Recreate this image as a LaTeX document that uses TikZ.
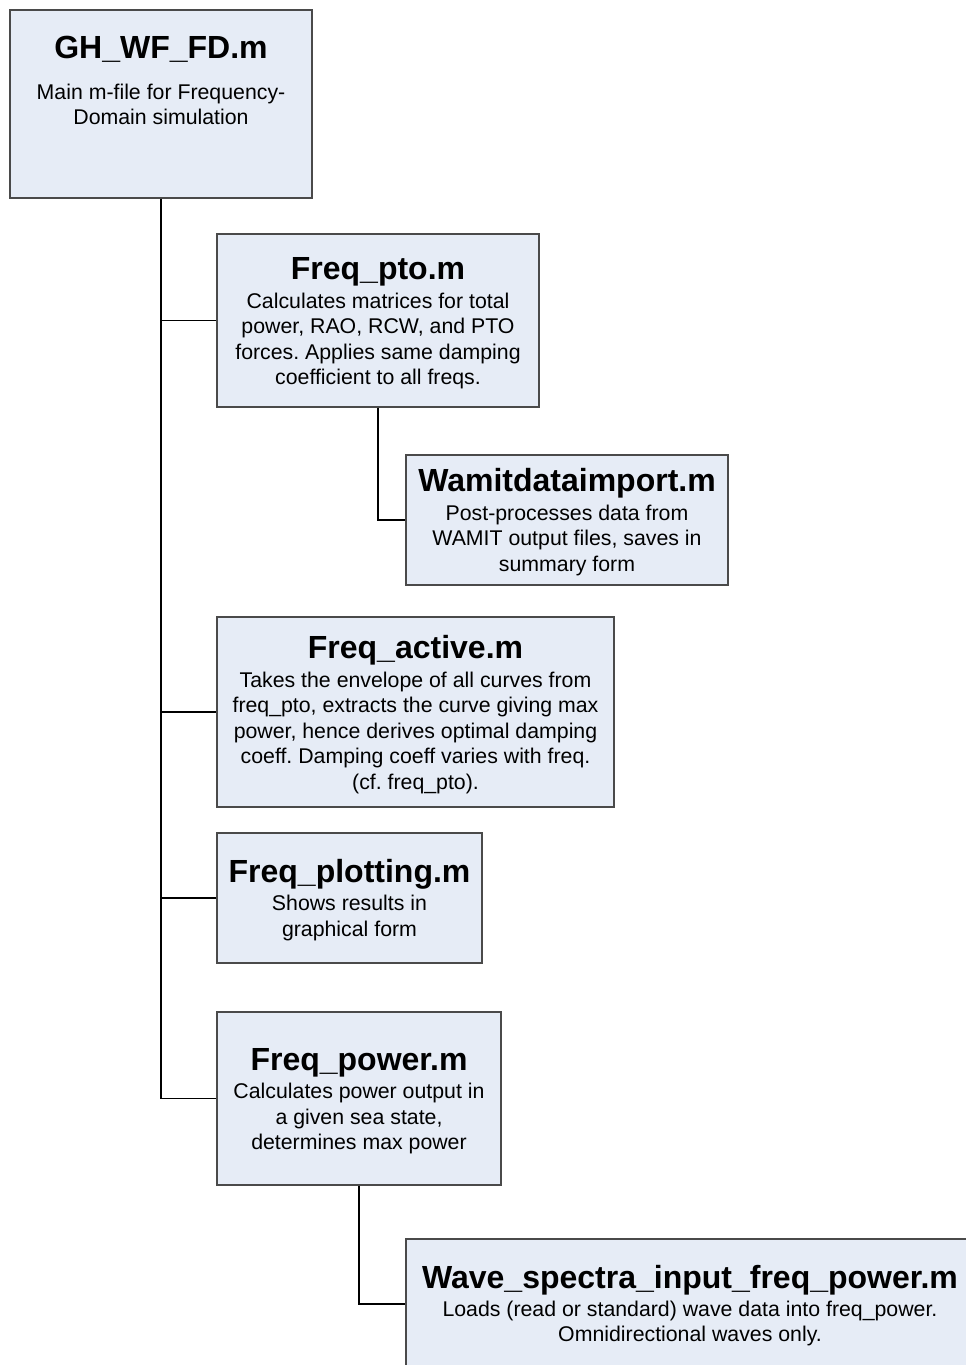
\documentclass[tikz,border=0pt]{standalone}
\usepackage{fontspec}
\setmainfont{Liberation Sans}
\definecolor{boxfill}{HTML}{E6ECF6}
\definecolor{boxline}{HTML}{4A4A4A}
\frenchspacing
\begin{document}
\begin{tikzpicture}[x=1pt,y=-1pt,
  box/.style={draw=boxline, fill=boxfill, line width=1.1pt, rectangle, inner sep=0pt},
  ttl/.style={anchor=base, inner sep=0pt, font=\fontsize{32}{38}\bfseries\selectfont},
  txt/.style={anchor=base, inner sep=0pt, font=\fontsize{21.3}{25.5}\selectfont},
  conn/.style={draw=black, line width=1.3pt}]
\path[use as bounding box] (0,0) rectangle (966,1365);
\clip (0,0) rectangle (966,1365);

% boxes
\node[box, minimum width=302pt, minimum height=188pt] (gh)     at (161,104) {};
\node[box, minimum width=322pt, minimum height=173pt] (fpto)   at (378,320.5) {};
\node[box, minimum width=322pt, minimum height=130pt] (wamit)  at (567,520) {};
\node[box, minimum width=397pt, minimum height=190pt] (factive) at (415.5,712) {};
\node[box, minimum width=265pt, minimum height=130pt] (fplot)  at (349.5,898) {};
\node[box, minimum width=284pt, minimum height=173pt] (fpower) at (359,1098.5) {};
\node[box, minimum width=569pt, minimum height=130pt] (wave)   at (690.5,1304) {};

% connectors
\draw[conn] (gh.south) |- (fpower.west);
\draw[conn] (gh.south |- fpto.west) -- (fpto.west);
\draw[conn] (gh.south |- factive.west) -- (factive.west);
\draw[conn] (gh.south |- fplot.west) -- (fplot.west);
\draw[conn] (fpto.south) |- (wamit.west);
\draw[conn] (fpower.south) |- (wave.west);

% texts
\node[ttl] (ghT) at (161,58) {GH\_WF\_FD.m};
\node[txt] (gh1) at (161,99) {Main m-file for Frequency-};
\node[txt] (gh2) at (161,124) {Domain simulation};

\node[ttl] (fptoT) at (378,279) {Freq\_pto.m};
\node[txt] (fpto1) at (378,308) {Calculates matrices for total};
\node[txt] (fpto2) at (378,333.5) {power, RAO, RCW, and PTO};
\node[txt] (fpto3) at (378,359) {forces. Applies same damping};
\node[txt] (fpto4) at (378,384.5) {coefficient to all freqs.};

\node[ttl] (wamitT) at (567,491) {Wamitdataimport.m};
\node[txt] (wamit1) at (567,520) {Post-processes data from};
\node[txt] (wamit2) at (567,545.5) {WAMIT output files, saves in};
\node[txt] (wamit3) at (567,571) {summary form};

\node[ttl] (factiveT) at (415.5,658) {Freq\_active.m};
\node[txt] (factive1) at (415.5,687) {Takes the envelope of all curves from};
\node[txt] (factive2) at (415.5,712.5) {freq\_pto, extracts the curve giving max};
\node[txt] (factive3) at (415.5,738) {power, hence derives optimal damping};
\node[txt] (factive4) at (415.5,763.5) {coeff. Damping coeff varies with freq.};
\node[txt] (factive5) at (415.5,789) {(cf. freq\_pto).};

\node[ttl] (fplotT) at (349.5,882) {Freq\_plotting.m};
\node[txt] (fplot1) at (349.5,910.5) {Shows results in};
\node[txt] (fplot2) at (349.5,936) {graphical form};

\node[ttl] (fpowerT) at (359,1070) {Freq\_power.m};
\node[txt] (fpower1) at (359,1098.5) {Calculates power output in};
\node[txt] (fpower2) at (359,1124) {a given sea state,};
\node[txt] (fpower3) at (359,1149.5) {determines max power};

\node[ttl] (waveT) at (690,1288) {Wave\_spectra\_input\_freq\_power.m};
\node[txt] (wave1) at (690,1316) {Loads (read or standard) wave data into freq\_power.};
\node[txt] (wave2) at (690,1341.5) {Omnidirectional waves only.};
\end{tikzpicture}
\end{document}
